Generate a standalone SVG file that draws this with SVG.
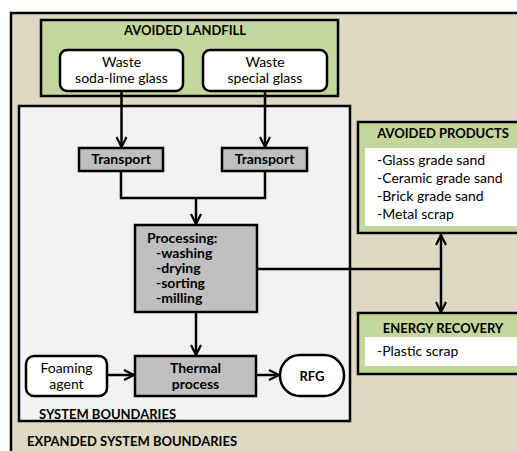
<svg xmlns="http://www.w3.org/2000/svg" width="517" height="451" viewBox="0 0 517 451">
<defs>
<style>
text{font-family:Lato,"Liberation Sans",sans-serif;font-weight:bold;fill:#000}
.r{font-weight:normal}
.b{stroke:#000;stroke-width:2.5}
.c{fill:none;stroke:#000;stroke-width:2.5}
.t{font-size:13px}
.n{font-size:14px}
</style>
<marker id="ah" viewBox="0 0 12 12" refX="11" refY="6" markerWidth="12" markerHeight="12" markerUnits="userSpaceOnUse" orient="auto-start-reverse">
<path d="M1,1 L11,6 L1,11" fill="none" stroke="#000" stroke-width="2.2"/>
</marker>
</defs>
<rect x="0" y="0" width="517" height="451" fill="#fff"/>
<g id="expanded">
<rect x="11" y="13" width="520" height="450" fill="#ddd9c3" class="b"/>
<text x="27" y="446" class="t">EXPANDED SYSTEM  BOUNDARIES</text>
</g>
<g id="system">
<rect x="19" y="106" width="331" height="315" fill="#f2f2f2" class="b"/>
<text x="39" y="419" class="t">SYSTEM BOUNDARIES</text>
</g>
<g id="landfill">
<rect x="41" y="20" width="297" height="76" fill="#c3d69b" class="b"/>
<text x="185" y="35" class="t" text-anchor="middle">AVOIDED LANDFILL</text>
</g>
<g id="soda">
<rect x="60" y="50" width="123" height="41" rx="7" fill="#fff" class="b"/>
<text class="n r" text-anchor="middle"><tspan x="121.5" y="67">Waste</tspan><tspan x="121.5" y="83">soda-lime glass</tspan></text>
</g>
<g id="special">
<rect x="203" y="50" width="124" height="41" rx="7" fill="#fff" class="b"/>
<text class="n r" text-anchor="middle"><tspan x="265" y="67">Waste</tspan><tspan x="265" y="83">special glass</tspan></text>
</g>
<g id="transport1">
<rect x="79" y="148" width="84" height="23" fill="#bfbfbf" class="b"/>
<text x="121" y="164" class="n" text-anchor="middle">Transport</text>
</g>
<g id="transport2">
<rect x="222" y="148" width="85" height="23" fill="#bfbfbf" class="b"/>
<text x="264.5" y="164" class="n" text-anchor="middle">Transport</text>
</g>
<g id="processing">
<rect x="135" y="225" width="122" height="87" fill="#bfbfbf" class="b"/>
<text class="n"><tspan x="147" y="243">Processing:</tspan><tspan x="156" y="258">-washing</tspan><tspan x="156" y="273">-drying</tspan><tspan x="156" y="288">-sorting</tspan><tspan x="156" y="303">-milling</tspan></text>
</g>
<g id="thermal">
<rect x="135" y="356" width="121" height="40" fill="#bfbfbf" class="b"/>
<text class="n" text-anchor="middle"><tspan x="195.5" y="373">Thermal</tspan><tspan x="195.5" y="389">process</tspan></text>
</g>
<g id="foaming">
<rect x="26" y="356" width="81" height="40" rx="8" fill="#fff" class="b"/>
<text class="n r" text-anchor="middle"><tspan x="66.5" y="373">Foaming</tspan><tspan x="66.5" y="389">agent</tspan></text>
</g>
<g id="rfg">
<rect x="280" y="355" width="64" height="41" rx="20" fill="#fff" class="b"/>
<text x="312" y="381" class="t" text-anchor="middle">RFG</text>
</g>
<g id="products">
<rect x="358" y="122" width="170" height="111" fill="#c3d69b" class="b"/>
<rect x="365" y="148" width="160" height="78" fill="#fff"/>
<text x="443" y="138" class="t" text-anchor="middle">AVOIDED PRODUCTS</text>
<text class="n r"><tspan x="377" y="165">-Glass grade sand</tspan><tspan x="377" y="183">-Ceramic grade sand</tspan><tspan x="377" y="201">-Brick grade sand</tspan><tspan x="377" y="219">-Metal scrap</tspan></text>
</g>
<g id="energy">
<rect x="358" y="313" width="170" height="61" fill="#c3d69b" class="b"/>
<rect x="365" y="337" width="160" height="29" fill="#fff"/>
<text x="443" y="333" class="t" text-anchor="middle">ENERGY RECOVERY</text>
<text x="377" y="356" class="n r">-Plastic scrap</text>
</g>
<g id="connectors">
<path d="M121.5,91 V147" class="c" marker-end="url(#ah)"/>
<path d="M265,91 V147" class="c" marker-end="url(#ah)"/>
<path d="M121,171 V198 H265 V171" class="c"/>
<path d="M196,198 V224" class="c" marker-end="url(#ah)"/>
<path d="M196,312 V355" class="c" marker-end="url(#ah)"/>
<path d="M107,375 H134" class="c" marker-end="url(#ah)"/>
<path d="M256,375 H279" class="c" marker-end="url(#ah)"/>
<path d="M257,269 H441" class="c"/>
<path d="M441,235 V312" class="c" marker-start="url(#ah)" marker-end="url(#ah)"/>
</g>
</svg>
